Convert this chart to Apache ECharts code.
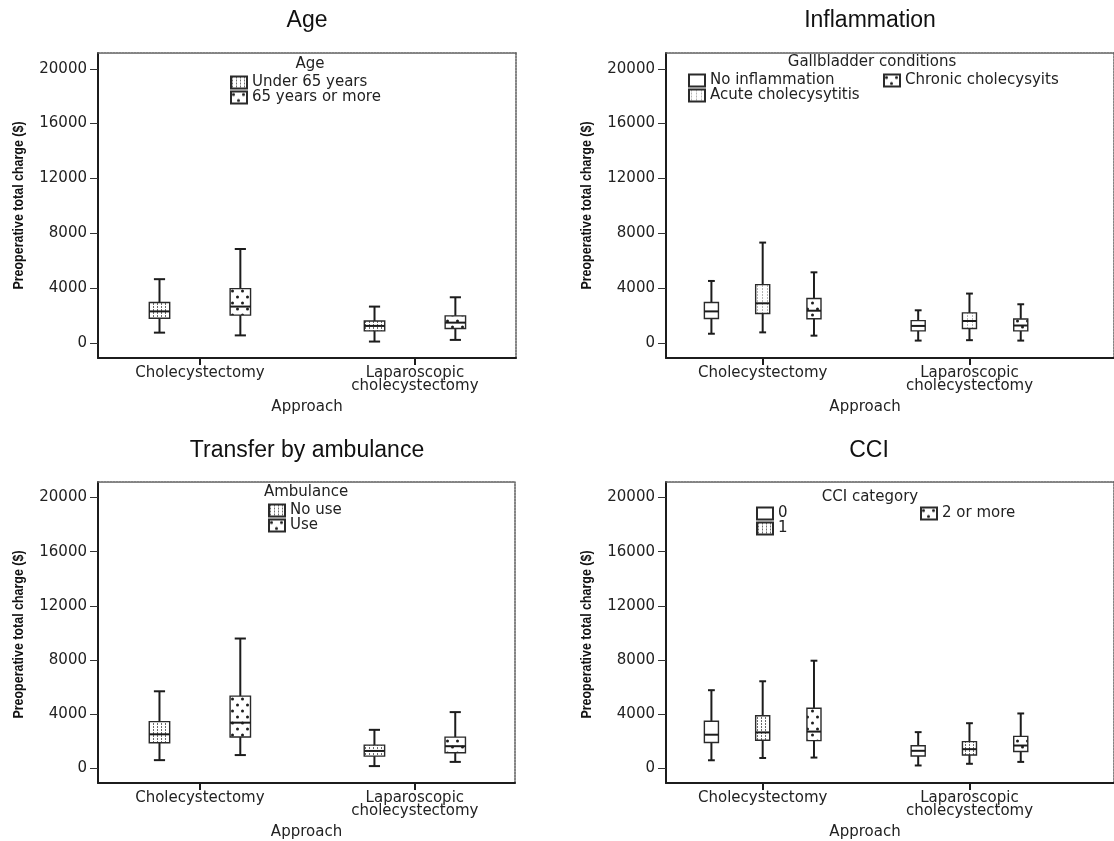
<!DOCTYPE html>
<html>
<head>
<meta charset="utf-8">
<title>Preoperative total charge by approach</title>
<script src="https://cdn.jsdelivr.net/npm/echarts@6.0.0/dist/echarts.min.js"></script>
<style>
  html, body { margin: 0; padding: 0; background: #ffffff; }
  #chart { width: 1114px; height: 841px; }
</style>
</head>
<body>
<div id="chart"></div>
<script>
// ---- data -------------------------------------------------------------
// Five-number summaries per approach: [lower whisker, Q1, median, Q3, upper whisker]
const approaches = ['Cholecystectomy', 'Laparoscopic\ncholecystectomy'];
const yTickValues = [0, 4000, 8000, 12000, 16000, 20000];

const ageGroups = ['Under 65 years', '65 years or more'];
const ageUnder65 = [[750, 1800, 2300, 2950, 4650], [100, 880, 1240, 1600, 2650]];
const age65Plus = [[550, 2030, 2650, 3960, 6850], [220, 1050, 1480, 1970, 3330]];

const gallbladderGroups = ['No inflammation', 'Acute cholecysytitis', 'Chronic cholecysyits'];
const noInflammation = [[670, 1780, 2300, 2950, 4520], [170, 880, 1240, 1630, 2380]];
const acuteCholecystitis = [[770, 2150, 2890, 4250, 7320], [200, 1050, 1600, 2190, 3600]];
const chronicCholecystitis = [[530, 1760, 2350, 3240, 5150], [170, 880, 1270, 1750, 2820]];

const ambulanceGroups = ['No use', 'Use'];
const ambulanceNoUse = [[590, 1880, 2500, 3440, 5680], [150, 890, 1270, 1700, 2830]];
const ambulanceUse = [[965, 2300, 3360, 5320, 9580], [460, 1135, 1620, 2290, 4140]];

const cciGroups = ['0', '1', '2 or more'];
const cci0 = [[580, 1890, 2470, 3460, 5760], [195, 900, 1280, 1650, 2660]];
const cci1 = [[750, 2060, 2640, 3870, 6420], [320, 970, 1400, 1960, 3320]];
const cci2Plus = [[780, 2030, 2700, 4430, 7940], [460, 1230, 1670, 2350, 4040]];

// ---- fill patterns ----------------------------------------------------
function patternCanvas(w, h, draw) {
  const c = document.createElement('canvas');
  c.width = w; c.height = h;
  const g = c.getContext('2d');
  g.fillStyle = '#ffffff';
  g.fillRect(0, 0, w, h);
  draw(g);
  return c;
}
const fills = {
  plain: '#ffffff',
  vdash: { image: patternCanvas(4, 3, g => { g.fillStyle = '#6a6a6a'; g.fillRect(1, 0, 1, 2); }), repeat: 'repeat' },
  vdashLight: { image: patternCanvas(5, 3, g => { g.fillStyle = '#b4b4b4'; g.fillRect(2, 0, 1, 2); }), repeat: 'repeat' },
  dots: { image: patternCanvas(10, 12, g => {
    g.fillStyle = '#1e1e1e';
    g.beginPath(); g.arc(2.5, 3, 1.5, 0, Math.PI * 2); g.fill();
    g.beginPath(); g.arc(7.5, 9, 1.5, 0, Math.PI * 2); g.fill();
  }), repeat: 'repeat' }
};

// ---- shared styles ----------------------------------------------------
const FONT = "'DejaVu Sans', Verdana, sans-serif";
const INK = '#1c1c1c';
const smallText = { fontFamily: FONT, fontSize: 15, color: '#222' };

const option = {
  backgroundColor: '#ffffff',
  animation: false,
  grid: [], xAxis: [], yAxis: [], legend: [], series: [], graphic: []
};

function boxRenderer(offset, boxW, capW, fill) {
  return function (params, api) {
    const xv = api.value(0);
    const unit = api.size([1, 0])[0];
    const cx = api.coord([xv, 0])[0] + offset * unit;
    const yLo = api.coord([xv, api.value(1)])[1];
    const yQ1 = api.coord([xv, api.value(2)])[1];
    const yMed = api.coord([xv, api.value(3)])[1];
    const yQ3 = api.coord([xv, api.value(4)])[1];
    const yHi = api.coord([xv, api.value(5)])[1];
    const bw = boxW * unit, cw = capW * unit;
    const whisker = { stroke: INK, lineWidth: 2 };
    return {
      type: 'group',
      children: [
        { type: 'line', shape: { x1: cx, y1: yHi, x2: cx, y2: yQ3 }, style: whisker },
        { type: 'line', shape: { x1: cx, y1: yQ1, x2: cx, y2: yLo }, style: whisker },
        { type: 'line', shape: { x1: cx - cw / 2, y1: yHi, x2: cx + cw / 2, y2: yHi }, style: whisker },
        { type: 'line', shape: { x1: cx - cw / 2, y1: yLo, x2: cx + cw / 2, y2: yLo }, style: whisker },
        { type: 'rect', shape: { x: cx - bw / 2, y: yQ3, width: bw, height: yQ1 - yQ3 },
          style: { fill: fill, stroke: '#2a2a2a', lineWidth: 1.4 } },
        { type: 'line', shape: { x1: cx - bw / 2, y1: yMed, x2: cx + bw / 2, y2: yMed }, style: whisker }
      ]
    };
  };
}

function addPanel(p) {
  const gi = option.grid.length;
  option.grid.push({ left: p.left, top: p.top, width: p.width, height: p.height });

  const xi = option.xAxis.length;
  option.xAxis.push({
    gridIndex: gi, type: 'value', position: 'bottom', min: p.xMin, max: p.xMax,
    name: 'Approach', nameLocation: 'middle', nameGap: 42,
    nameTextStyle: Object.assign({}, smallText, { padding: [0, p.nameShift || 0, 0, 0] }),
    axisLine: { show: true, onZero: false, lineStyle: { color: INK, width: 2 } },
    axisTick: { show: true, customValues: [0, 1], length: 7, lineStyle: { color: INK, width: 2 } },
    axisLabel: Object.assign({}, smallText, {
      customValues: [0, 1], margin: 8, lineHeight: 13.5,
      formatter: v => approaches[Math.round(v)]
    }),
    splitLine: { show: false }
  });
  option.xAxis.push({
    gridIndex: gi, type: 'value', position: 'top', min: p.xMin, max: p.xMax,
    axisLine: { show: true, onZero: false, lineStyle: { color: '#5c5c5c', width: 1.5, type: [2, 1] } },
    axisTick: { show: false }, axisLabel: { show: false }, splitLine: { show: false }
  });

  const yi = option.yAxis.length;
  option.yAxis.push({
    gridIndex: gi, type: 'value', position: 'left', min: -1100, max: 21150,
    axisLine: { show: true, onZero: false, lineStyle: { color: INK, width: 2 } },
    axisTick: { show: true, customValues: yTickValues, length: 8, lineStyle: { color: '#333', width: 1 } },
    axisLabel: Object.assign({}, smallText, { customValues: yTickValues, margin: 11, formatter: v => String(v) }),
    splitLine: { show: false }
  });
  option.yAxis.push({
    gridIndex: gi, type: 'value', position: 'right', min: -1100, max: 21150,
    axisLine: { show: true, onZero: false, lineStyle: { color: '#5c5c5c', width: 1.5, type: [2, 1] } },
    axisTick: { show: false }, axisLabel: { show: false }, splitLine: { show: false }
  });

  p.groups.forEach((name, k) => {
    option.series.push({
      type: 'custom', name: name, coordinateSystem: 'cartesian2d',
      xAxisIndex: xi, yAxisIndex: yi,
      itemStyle: { color: p.fills[k], borderColor: '#2a2a2a', borderWidth: 1 },
      encode: { x: 0, y: [1, 2, 3, 4, 5] },
      renderItem: boxRenderer(p.offsets[k], p.boxW, p.capW, p.fills[k]),
      data: p.stats[k].map((s, i) => [i].concat(s))
    });
  });

  p.legends.forEach(l => {
    option.legend.push({
      data: l.names, orient: 'vertical', left: l.left, top: l.top, padding: 0,
      itemWidth: 16, itemHeight: 12, itemGap: 0, icon: 'rect', selectedMode: false,
      textStyle: Object.assign({}, smallText, { lineHeight: l.lineHeight })
    });
  });

  // panel heading
  option.graphic.push({
    type: 'text', x: p.titleX, y: p.titleY, silent: true,
    style: { text: p.title, fontFamily: "'Liberation Sans', Arial, sans-serif", fontSize: 23,
             fill: '#111', align: 'center', verticalAlign: 'middle' }
  });
  // legend heading
  option.graphic.push({
    type: 'text', x: p.legendTitleX, y: p.legendTitleY, silent: true,
    style: { text: p.legendTitle, fontFamily: FONT, fontSize: 15, fill: '#222',
             align: 'center', verticalAlign: 'middle' }
  });
  // vertical axis title, bold and condensed
  option.graphic.push({
    type: 'text', x: p.left - 79, y: p.top + p.height / 2, rotation: Math.PI / 2, scaleX: 0.83,
    silent: true,
    style: { text: 'Preoperative total charge ($)', fontFamily: "'Liberation Sans', Arial, sans-serif",
             fontWeight: 'bold', fontSize: 15, fill: '#111', align: 'center', verticalAlign: 'middle' }
  });
}

addPanel({
  left: 98, top: 53, width: 418, height: 305, xMin: -0.474, xMax: 1.47,
  title: 'Age', titleX: 307, titleY: 21,
  legendTitle: 'Age', legendTitleX: 310, legendTitleY: 64,
  groups: ageGroups, stats: [ageUnder65, age65Plus], fills: [fills.vdash, fills.dots],
  offsets: [-0.188, 0.188], boxW: 0.095, capW: 0.052,
  legends: [{ names: ageGroups, left: 230, top: 75, lineHeight: 15 }]
});
addPanel({
  left: 666, top: 53, width: 468, height: 305, xMin: -0.4676, xMax: 1.699, nameShift: 50,
  title: 'Inflammation', titleX: 870, titleY: 21,
  legendTitle: 'Gallbladder conditions', legendTitleX: 872, legendTitleY: 62,
  groups: gallbladderGroups, stats: [noInflammation, acuteCholecystitis, chronicCholecystitis],
  fills: [fills.plain, fills.vdashLight, fills.dots],
  offsets: [-0.248, 0, 0.248], boxW: 0.068, capW: 0.033,
  legends: [
    { names: gallbladderGroups.slice(0, 2), left: 688, top: 73, lineHeight: 14 },
    { names: gallbladderGroups.slice(2), left: 883, top: 73, lineHeight: 14 }
  ]
});
addPanel({
  left: 98, top: 482, width: 417, height: 305, xMin: -0.474, xMax: 1.466,
  title: 'Transfer by ambulance', titleX: 307, titleY: 451,
  legendTitle: 'Ambulance', legendTitleX: 306, legendTitleY: 492,
  groups: ambulanceGroups, stats: [ambulanceNoUse, ambulanceUse], fills: [fills.vdash, fills.dots],
  offsets: [-0.188, 0.188], boxW: 0.095, capW: 0.052,
  legends: [{ names: ambulanceGroups, left: 268, top: 503, lineHeight: 14 }]
});
addPanel({
  left: 666, top: 482, width: 468, height: 305, xMin: -0.4676, xMax: 1.699, nameShift: 50,
  title: 'CCI', titleX: 869, titleY: 451,
  legendTitle: 'CCI category', legendTitleX: 870, legendTitleY: 497,
  groups: cciGroups, stats: [cci0, cci1, cci2Plus], fills: [fills.plain, fills.vdash, fills.dots],
  offsets: [-0.248, 0, 0.248], boxW: 0.068, capW: 0.033,
  legends: [
    { names: cciGroups.slice(0, 2), left: 756, top: 506, lineHeight: 15 },
    { names: cciGroups.slice(2), left: 920, top: 506, lineHeight: 15 }
  ]
});

const chart = echarts.init(document.getElementById('chart'), null, { renderer: 'canvas' });
chart.setOption(option);
</script>
</body>
</html>
